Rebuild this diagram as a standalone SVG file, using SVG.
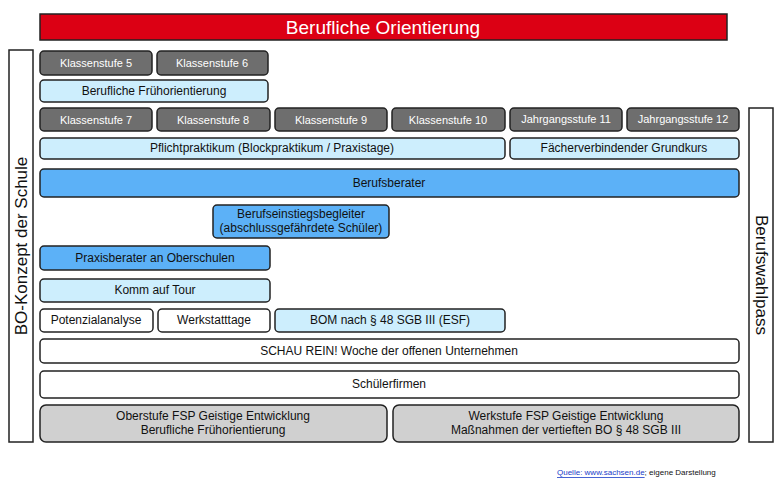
<svg xmlns="http://www.w3.org/2000/svg" width="780" height="480" viewBox="0 0 780 480">
<style>
text{font-family:"Liberation Sans",Arial,sans-serif;text-anchor:middle;dominant-baseline:central}
g rect{stroke:#222;stroke-width:1.5}
.g rect{fill:#6e6e6e}.g text{fill:#fff;font-size:11px}
.l rect{fill:#cdeefd}.l text{font-size:12px;fill:#111}
.b rect{fill:#5cb1f7}.b text{font-size:12px;fill:#111}
.w rect{fill:#fff}.w text{font-size:12px;fill:#111}
.s rect{fill:#d0d0d0}.s text{font-size:12px;fill:#111}
</style>
<rect width="780" height="480" fill="#fff"/>
<g id="title"><rect x="40" y="14" width="687" height="26" fill="#dc0014" stroke="#333"/><text x="383" y="27" fill="#fff" font-size="19">Berufliche Orientierung</text></g>
<g id="left" class="w"><rect x="9" y="50" width="24" height="392"/><text transform="translate(21,246) rotate(-90)" style="font-size:17px">BO-Konzept der Schule</text></g>
<g id="right" class="w"><rect x="749" y="108" width="24" height="334"/><text transform="translate(761,275) rotate(90)" style="font-size:17px">Berufswahlpass</text></g>
<g id="k5" class="g"><rect x="40" y="51" width="112" height="24" rx="4"/><text x="96" y="63">Klassenstufe 5</text></g>
<g id="k6" class="g"><rect x="157" y="51" width="111" height="24" rx="4"/><text x="212" y="63">Klassenstufe 6</text></g>
<g id="bfo" class="l"><rect x="40" y="80" width="228" height="22" rx="4"/><text x="154" y="91">Berufliche Frühorientierung</text></g>
<g id="k7" class="g"><rect x="40" y="108" width="112" height="23" rx="4"/><text x="96" y="120">Klassenstufe 7</text></g>
<g id="k8" class="g"><rect x="157" y="108" width="113" height="23" rx="4"/><text x="213" y="120">Klassenstufe 8</text></g>
<g id="k9" class="g"><rect x="275" y="108" width="112" height="23" rx="4"/><text x="331" y="120">Klassenstufe 9</text></g>
<g id="k10" class="g"><rect x="392" y="108" width="113" height="23" rx="4"/><text x="448" y="120">Klassenstufe 10</text></g>
<g id="j11" class="g"><rect x="510" y="108" width="112" height="23" rx="4"/><text x="566" y="119">Jahrgangsstufe 11</text></g>
<g id="j12" class="g"><rect x="627" y="108" width="112" height="23" rx="4"/><text x="683" y="119">Jahrgangsstufe 12</text></g>
<g id="pp" class="l"><rect x="40" y="138" width="465" height="21" rx="4"/><text x="272" y="148">Pflichtpraktikum (Blockpraktikum / Praxistage)</text></g>
<g id="fvg" class="l"><rect x="510" y="138" width="229" height="21" rx="4"/><text x="624" y="148">Fächerverbindender Grundkurs</text></g>
<g id="bb" class="b"><rect x="40" y="169" width="699" height="28" rx="4"/><text x="389" y="183">Berufsberater</text></g>
<g id="beb" class="b"><rect x="213" y="205" width="176" height="33" rx="4"/><text x="301" y="214">Berufseinstiegsbegleiter</text><text x="301" y="228">(abschlussgefährdete Schüler)</text></g>
<g id="pb" class="b"><rect x="40" y="246" width="230" height="24" rx="4"/><text x="155" y="258">Praxisberater an Oberschulen</text></g>
<g id="kat" class="l"><rect x="40" y="279" width="230" height="23" rx="4"/><text x="155" y="290">Komm auf Tour</text></g>
<g id="pa" class="w"><rect x="40" y="309" width="113" height="23" rx="4"/><text x="96" y="320">Potenzialanalyse</text></g>
<g id="wt" class="w"><rect x="158" y="309" width="112" height="23" rx="4"/><text x="214" y="320">Werkstatttage</text></g>
<g id="bom" class="l"><rect x="275" y="309" width="230" height="23" rx="4"/><text x="390" y="320">BOM nach § 48 SGB III (ESF)</text></g>
<g id="sr" class="w"><rect x="40" y="339" width="699" height="24" rx="4"/><text x="389" y="351">SCHAU REIN! Woche der offenen Unternehmen</text></g>
<g id="sf" class="w"><rect x="40" y="371" width="699" height="27" rx="4"/><text x="389" y="384">Schülerfirmen</text></g>
<g id="os" class="s"><rect x="40" y="405" width="347" height="37" rx="6"/><text x="213" y="416">Oberstufe FSP Geistige Entwicklung</text><text x="213" y="430">Berufliche Frühorientierung</text></g>
<g id="ws" class="s"><rect x="393" y="405" width="346" height="37" rx="6"/><text x="566" y="416">Werkstufe FSP Geistige Entwicklung</text><text x="566" y="430">Maßnahmen der vertieften BO § 48 SGB III</text></g>
<g id="connectors"/>
<text x="557" y="472" style="text-anchor:start;font-size:8px"><tspan fill="#1a3cc8" text-decoration="underline">Quelle: www.sachsen.de</tspan><tspan fill="#111">; eigene Darstellung</tspan></text>
</svg>
